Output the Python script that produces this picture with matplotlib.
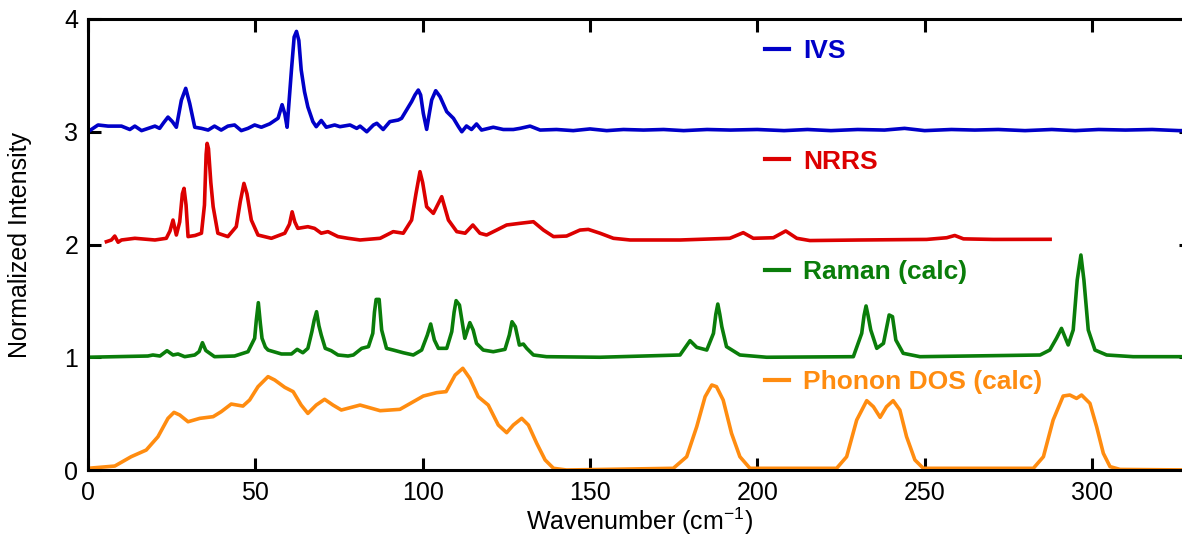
import matplotlib
matplotlib.use("Agg")
import matplotlib.pyplot as plt

plt.rcParams['font.family'] = ['Liberation Sans', 'DejaVu Sans']
plt.rcParams['mathtext.fontset'] = 'custom'
plt.rcParams['mathtext.rm'] = 'Liberation Sans'

# IVS (offset +3)
ivs_x = [0, 3, 6, 10, 12.5, 14, 16, 20, 21.4, 22.6, 23.9, 25.2, 26.4, 27.9, 29.2, 30.4, 31.9,
         33.9, 35.9, 37.8, 39.8, 41.8, 43.8, 45.8, 47.8, 49.8, 51.8, 54.3, 56.8, 58, 58.8,
         59.5, 60.8, 61.6, 62.3, 63, 63.7, 64.7, 65.7, 67.2, 68.2, 69.7, 71.2, 73.7, 75.3,
         78.3, 80.3, 81.3, 83.3, 85.3, 86.3, 88.2, 90.2, 92.7, 93.7, 95.2, 96.7, 97.7, 98.7,
         99.4, 100.2, 101.2, 102, 102.7, 103.9, 105.2, 107.2, 109.2, 110.7, 111.7, 113.1,
         114.6, 116.1, 117.6, 121.1, 124.1, 127.1, 129.1, 132.1, 135.1, 140, 145, 150, 155,
         160, 166, 172, 178, 185, 192, 200, 208, 215, 222, 230, 238, 244, 250, 258, 265,
         272, 280, 288, 295, 302, 310, 318, 326, 330]
ivs_y = [3.00, 3.06, 3.05, 3.05, 3.02, 3.05, 3.01, 3.05, 3.03, 3.08, 3.13, 3.09, 3.04, 3.28,
         3.385, 3.25, 3.04, 3.03, 3.015, 3.05, 3.015, 3.05, 3.06, 3.01, 3.03, 3.06, 3.04,
         3.07, 3.12, 3.24, 3.16, 3.04, 3.55, 3.84, 3.89, 3.81, 3.55, 3.355, 3.22, 3.09,
         3.045, 3.10, 3.04, 3.06, 3.045, 3.06, 3.03, 3.05, 3.00, 3.06, 3.075, 3.02, 3.09,
         3.104, 3.119, 3.193, 3.267, 3.326, 3.37, 3.326, 3.163, 3.021, 3.163, 3.282, 3.364,
         3.311, 3.178, 3.119, 3.045, 3.00, 3.051, 3.02, 3.069, 3.015, 3.04, 3.02, 3.02,
         3.03, 3.05, 3.015, 3.02, 3.01, 3.025, 3.01, 3.02, 3.015, 3.02, 3.01, 3.02, 3.015,
         3.02, 3.01, 3.02, 3.01, 3.02, 3.015, 3.03, 3.01, 3.02, 3.015, 3.02, 3.01, 3.02,
         3.01, 3.02, 3.015, 3.02, 3.01, 3.01]

# NRRS (offset +2)
nrrs_x = [5.5, 7, 8, 9, 10, 14, 20, 23.4, 24.5, 25.4, 26.4, 27.4, 28.2, 28.7, 29.3, 29.9, 32,
          33.9, 34.8, 35.3, 35.6, 36.0, 36.7, 37.4, 38.8, 41.8, 44.3, 45.5, 46.6, 47.5, 48.8,
          50.8, 54.8, 58.8, 60.2, 61, 61.8, 62.7, 65.7, 67.7, 69.7, 71.7, 74.7, 77.7, 81.3,
          87.3, 91.2, 94.2, 96.7, 98.0, 99.2, 100, 101.2, 103.2, 105.7, 107.7, 110.2, 112.7,
          115, 117.1, 119.1, 122.1, 125.1, 129.1, 133.1, 136.1, 139.1, 143, 147, 149.5, 153,
          157, 162, 177, 191.8, 195.8, 198.8, 204.8, 208.5, 211.8, 215.7, 230.7, 250.6, 256.6,
          259, 261.6, 270.5, 287.5]
nrrs_y = [2.025, 2.04, 2.075, 2.02, 2.04, 2.055, 2.04, 2.055, 2.12, 2.217, 2.084, 2.20, 2.45,
          2.498, 2.35, 2.07, 2.08, 2.10, 2.35, 2.8, 2.897, 2.85, 2.55, 2.335, 2.10, 2.07, 2.158,
          2.38, 2.542, 2.45, 2.217, 2.084, 2.055, 2.10, 2.18, 2.29, 2.2, 2.143, 2.158, 2.143,
          2.10, 2.114, 2.07, 2.055, 2.04, 2.055, 2.114, 2.10, 2.217, 2.45, 2.646, 2.55, 2.335,
          2.276, 2.424, 2.217, 2.114, 2.10, 2.173, 2.10, 2.084, 2.128, 2.173, 2.188, 2.202,
          2.128, 2.07, 2.075, 2.128, 2.134, 2.10, 2.055, 2.04, 2.04, 2.055, 2.105, 2.055, 2.06,
          2.12, 2.055, 2.035, 2.04, 2.045, 2.06, 2.08, 2.05, 2.045, 2.046]

# Raman (calc), offset +1
raman_x = [0, 17.9, 19.4, 21.5, 23.6, 25.4, 26.9, 28.9, 31.9, 33.2, 34.2, 35.2, 37.8, 43.8,
           47.8, 49.8, 50.3, 50.9, 51.5, 52, 53, 53.8, 57.8, 60.8, 62.5, 64.2, 65.7, 66.9,
           67.6, 68.3, 69.0, 69.7, 70.9, 72.7, 74.7, 77.7, 79.3, 81.8, 83.8, 85.1, 85.6, 86.1,
           87, 87.75, 89.2, 91.2, 94.2, 97.2, 99.7, 101.4, 102.4, 103.5, 104.7, 107.2, 108.7,
           109.4, 110, 111, 112.6, 114.1, 115.1, 116.1, 118.1, 121.1, 124.6, 125.9, 126.7,
           127.7, 128.9, 130.1, 131.1, 133.1, 137, 153, 176.9, 179.9, 181.9, 184.9, 186.9,
           187.6, 188.2, 188.8, 189.4, 190.8, 194.8, 202.8, 228.7, 231.2, 231.9, 232.5, 233.1,
           233.9, 235.7, 237.7, 239.4, 240.4, 241.4, 243.6, 248.6, 284.5, 287.4, 289.4, 290.9,
           292.9, 294.4, 295.6, 296.7, 297.6, 298.9, 300.9, 304.4, 312.3, 330]
raman_y = [1.0, 1.011, 1.02, 1.011, 1.058, 1.02, 1.029, 1.005, 1.02, 1.05, 1.129, 1.06,
           1.005, 1.011, 1.049, 1.168, 1.33, 1.484, 1.30, 1.168, 1.09, 1.064, 1.029, 1.029,
           1.07, 1.04, 1.079, 1.227, 1.33, 1.404, 1.28, 1.197, 1.079, 1.058, 1.02, 1.011,
           1.02, 1.079, 1.094, 1.212, 1.40, 1.513, 1.513, 1.242, 1.079, 1.064, 1.04, 1.02,
           1.064, 1.197, 1.295, 1.153, 1.079, 1.079, 1.227, 1.40, 1.502, 1.463, 1.168, 1.307,
           1.242, 1.123, 1.064, 1.049, 1.07, 1.197, 1.315, 1.271, 1.108, 1.117, 1.079, 1.02,
           1.005, 1.0, 1.02, 1.147, 1.088, 1.064, 1.212, 1.38, 1.472, 1.38, 1.271, 1.094,
           1.02, 1.0, 1.005, 1.212, 1.37, 1.455, 1.37, 1.242, 1.079, 1.123, 1.375, 1.36,
           1.153, 1.035, 1.005, 1.02, 1.064, 1.168, 1.256, 1.109, 1.242, 1.685, 1.907, 1.685,
           1.242, 1.064, 1.02, 1.005, 1.005]

# Phonon DOS (calc)
dos_x = [0, 8, 12.9, 17.4, 20.9, 23.9, 25.7, 27.4, 29.9, 33.4, 37.4, 39.8, 42.8, 46.3, 48.3,
         50.8, 53.8, 55.8, 58.8, 61.3, 63.7, 65.7, 68.2, 70.7, 73.2, 75.7, 81.3, 87.3, 93.2,
         96.7, 100.2, 104.2, 107, 109.7, 112, 114.1, 116.6, 119.6, 122.6, 125.1, 127.1, 129.6,
         131.6, 134.1, 136.6, 139.1, 143, 174.9, 178.9, 181.9, 184.4, 186.4, 187.8, 189.8,
         192.3, 194.8, 197.8, 223.7, 226.7, 229.7, 232.7, 234.7, 236.7, 238.6, 240.6, 242.6,
         244.6, 247.1, 249.6, 282.5, 285.5, 288.4, 291.4, 293.4, 295.4, 296.9, 299.4, 301.4,
         303.4, 305.4, 308.4, 330]
dos_y = [0.015, 0.035, 0.118, 0.177, 0.295, 0.458, 0.511, 0.488, 0.428, 0.458, 0.473, 0.517,
         0.585, 0.567, 0.621, 0.739, 0.828, 0.798, 0.733, 0.695, 0.576, 0.502, 0.576, 0.627,
         0.576, 0.532, 0.576, 0.526, 0.538, 0.597, 0.656, 0.686, 0.695, 0.842, 0.902, 0.813,
         0.65, 0.576, 0.399, 0.331, 0.399, 0.458, 0.399, 0.236, 0.089, 0.015, 0.0, 0.015,
         0.118, 0.384, 0.65, 0.754, 0.739, 0.621, 0.325, 0.118, 0.015, 0.015, 0.118, 0.443,
         0.615, 0.561, 0.467, 0.561, 0.615, 0.532, 0.296, 0.089, 0.015, 0.015, 0.118, 0.443,
         0.656, 0.665, 0.635, 0.665, 0.591, 0.384, 0.148, 0.03, 0.005, 0.0]

labels = ['IVS', 'NRRS', 'Raman (calc)', 'Phonon DOS (calc)']
colors = ['#0000c8', '#dc0000', '#0a7d0a', '#ff8c10']

fig = plt.figure(figsize=(11.82, 5.35), dpi=100)
ax = fig.add_axes([88 / 1182, 65 / 535, 1103 / 1182, 451 / 535])

series = [(ivs_x, ivs_y), (nrrs_x, nrrs_y), (raman_x, raman_y), (dos_x, dos_y)]
for (x, y), lab, c in zip(series, labels, colors):
    ax.plot(x, y, color=c, lw=2.6, label=lab, solid_joinstyle='round')

ax.set_xlim(0, 329.6)
ax.set_ylim(0, 4)
ax.set_xticks([0, 50, 100, 150, 200, 250, 300])
ax.set_yticks([0, 1, 2, 3, 4])

for s in ax.spines.values():
    s.set_linewidth(2.2)
ax.tick_params(direction='in', length=9, width=2.2, labelsize=18, top=True, right=True)
ax.tick_params(axis='x', pad=8)
ax.tick_params(axis='y', pad=7)

ax.set_xlabel('Wavenumber (cm$^{\\mathregular{-1}}$)', fontsize=18, labelpad=0)
ax.set_ylabel('Normalized Intensity', fontsize=18)
ax.yaxis.set_label_coords(-0.051, 0.5)
ax.xaxis.set_label_coords(0.5, -0.078)

leg = ax.legend(loc='upper left', bbox_to_anchor=(0.6138, 0.955), frameon=False,
                prop={'weight': 'bold', 'size': 19}, labelcolor='linecolor',
                handlelength=0.9, handletextpad=0.55, labelspacing=3.27,
                borderpad=0, borderaxespad=0)
for h in leg.get_lines():
    h.set_linewidth(3)

fig.savefig('out.png', dpi=100)
